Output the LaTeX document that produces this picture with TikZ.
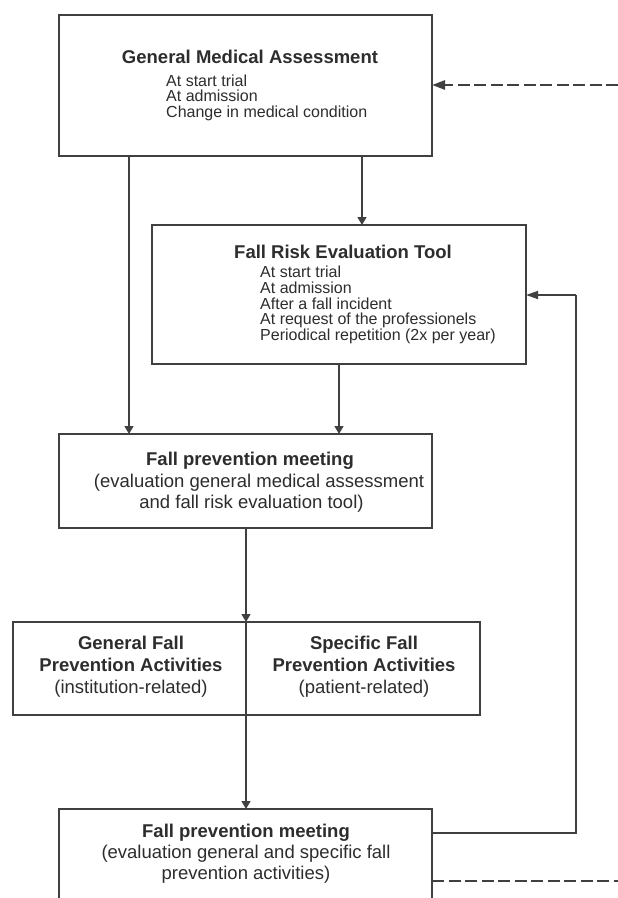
\documentclass[tikz,border=0pt]{standalone}
\usepackage{fontspec}
\setmainfont{Liberation Sans}
\usetikzlibrary{arrows.meta}
\definecolor{txtc}{RGB}{45,45,45}
\definecolor{linec}{RGB}{64,64,64}
\begin{document}
\begin{tikzpicture}[x=1pt,y=-1pt,
  boxst/.style={draw=linec, line width=1.3pt, inner sep=0pt, outer sep=0pt, anchor=north west},
  ttl/.style={text=txtc, inner sep=0pt, anchor=base, font=\fontsize{18.5}{22}\selectfont\bfseries},
  sub/.style={text=txtc, inner sep=0pt, anchor=base, font=\fontsize{18.5}{22}\selectfont},
  lst/.style={text=txtc, inner sep=0pt, anchor=base west, font=\fontsize{16}{16}\selectfont},
  conn/.style={draw=linec, line width=1.3pt},
  varr/.style={conn, -{Triangle[length=8pt,width=9pt]}},
  harr/.style={conn, -{Triangle[length=12pt,width=8pt]}},
  dsh/.style={draw=linec, line width=2.6pt, dash pattern=on 12pt off 4.5pt}
]
\clip (0,0) rectangle (618,898);
\fill[white] (0,0) rectangle (618,898);

% boxes
\node[boxst, minimum width=373pt, minimum height=141pt] (gma) at (59,15) {};
\node[boxst, minimum width=374pt, minimum height=139pt] (fret) at (152,225) {};
\node[boxst, minimum width=373pt, minimum height=94pt] (m1) at (59,434) {};
\node[boxst, minimum width=233pt, minimum height=93pt] (gen) at (13,622) {};
\node[boxst, minimum width=234pt, minimum height=93pt] (spec) at (246,622) {};
\node[boxst, minimum width=373pt, minimum height=130pt] (m2) at (59,809) {};

% GMA text
\node[ttl] (gmat) at (250,63) {General Medical Assessment};
\node[lst] (gma1) at (166,86) {At start trial};
\node[lst] (gma2) at (166,101.5) {At admission};
\node[lst] (gma3) at (166,117) {Change in medical condition};

% FRET text
\node[ttl] (frett) at (343,258) {Fall Risk Evaluation Tool};
\node[lst] (fret1) at (260,277) {At start trial};
\node[lst] (fret2) at (260,293) {At admission};
\node[lst] (fret3) at (260,309) {After a fall incident};
\node[lst] (fret4) at (260,324.5) {At request of the professionels};
\node[lst] (fret5) at (260,340.5) {Periodical repetition (2x per year)};

% meeting 1 text
\node[ttl] (m1t) at (250,465) {Fall prevention meeting};
\node[sub] (m1a) at (259,487) {(evaluation general medical assessment};
\node[sub] (m1b) at (251.5,508) {and fall risk evaluation tool)};

% split box text
\node[ttl] (gent1) at (131,649) {General Fall};
\node[ttl] (gent2) at (131,671) {Prevention Activities};
\node[sub] (gent3) at (131,693) {(institution-related)};
\node[ttl] (spect1) at (364,649) {Specific Fall};
\node[ttl] (spect2) at (364,671) {Prevention Activities};
\node[sub] (spect3) at (364,693) {(patient-related)};

% meeting 2 text
\node[ttl] (m2t) at (246,837) {Fall prevention meeting};
\node[sub] (m2a) at (246,858) {(evaluation general and specific fall};
\node[sub] (m2b) at (246,879.5) {prevention activities)};

% helper coordinates
\coordinate (cx1) at (362,0);
\coordinate (cx2) at (129,0);
\coordinate (fb1) at (576,833);
\coordinate (fb2) at (576,295);
\coordinate (dt) at (618,85);
\coordinate (db) at (618,881);

% connectors
\draw[varr] (gma.south -| cx1) -- (fret.north -| cx1);
\draw[varr] (gma.south -| cx2) -- (m1.north -| cx2);
\draw[varr] (fret.south) -- (m1.north -| fret.south);
\draw[varr] (m1.south -| gen.north east) -- (gen.north east);
\draw[varr] (gen.south east) -- (m2.north -| gen.south east);
\draw[conn] (m2.east |- fb1) -- (fb1) -- (fb2);
\draw[harr] (fb2) -- (fret.east |- fb2);
\draw[dsh, -{Triangle[length=13pt,width=9pt]}] (dt) -- (gma.east |- dt);
\draw[dsh] (m2.east |- db) -- (db);
\end{tikzpicture}
\end{document}
